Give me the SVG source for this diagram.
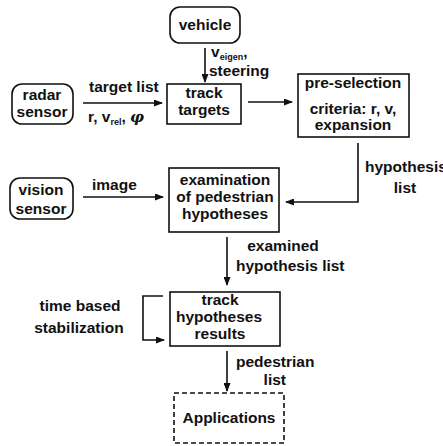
<svg xmlns="http://www.w3.org/2000/svg" width="443" height="446" viewBox="0 0 443 446">
  <defs>
    <style>
      .t { font-family: "Liberation Sans", Arial, sans-serif; font-weight: bold; font-size: 15.5px; fill: #111; }
      .c { text-anchor: middle; }
      .e { text-anchor: end; }
      .sub { font-size: 9px; }
      .box { fill: #fff; stroke: #111; stroke-width: 1.6; }
      .dash { fill: #fff; stroke: #111; stroke-width: 1.6; stroke-dasharray: 5 3; }
      .ln { fill: none; stroke: #111; stroke-width: 1.6; }
      .arr { marker-end: url(#head); }
    </style>
    <marker id="head" markerUnits="userSpaceOnUse" markerWidth="9" markerHeight="7" refX="8" refY="3.5" orient="auto">
      <path d="M0,0 L9,3.5 L0,7 Z" fill="#111"/>
    </marker>
  </defs>
  <rect width="443" height="446" fill="#fff"/>

  <!-- connectors -->
  <g id="connectors">
    <path class="ln arr" d="M205,48 V82"/>
    <path class="ln arr" d="M83,103 H162"/>
    <path class="ln arr" d="M248,102 H292"/>
    <path class="ln arr" d="M358,143 V202 H286"/>
    <path class="ln arr" d="M83,197 H163"/>
    <path class="ln arr" d="M227,237 V285"/>
    <path class="ln arr" d="M163,296 H143 V340 H164"/>
    <path class="ln arr" d="M227,351 V391"/>
  </g>

  <!-- connector labels -->
  <g id="labels">
    <text class="t" x="211" y="57">v<tspan class="sub" dy="2.5">eigen</tspan><tspan dy="-2.5">,</tspan></text>
    <text class="t" x="209" y="76">steering</text>
    <text class="t" x="89" y="92">target list</text>
    <text class="t" x="88" y="122">r, v<tspan class="sub" dy="3">rel</tspan><tspan dy="-3">, </tspan><tspan font-style="italic" font-family="'DejaVu Serif', serif">φ</tspan></text>
    <text class="t" x="365" y="172">hypothesis</text>
    <text class="t c" x="405" y="193">list</text>
    <text class="t" x="92" y="190">image</text>
    <text class="t c" x="283" y="251">examined</text>
    <text class="t" x="236" y="271">hypothesis list</text>
    <text class="t c" x="80" y="311">time based</text>
    <text class="t c" x="79" y="333">stabilization</text>
    <text class="t" x="236" y="367">pedestrian</text>
    <text class="t e" x="286" y="385">list</text>
  </g>

  <!-- nodes -->
  <g id="vehicle">
    <rect class="box" x="170" y="7" width="70" height="36" rx="10"/>
    <text class="t c" x="205" y="30">vehicle</text>
  </g>
  <g id="radar-sensor">
    <rect class="box" x="12" y="84" width="61" height="40" rx="10"/>
    <text class="t c" x="42" y="100">radar</text>
    <text class="t c" x="42" y="117">sensor</text>
  </g>
  <g id="track-targets">
    <rect class="box" x="167" y="84" width="74" height="40"/>
    <text class="t c" x="204" y="98">track</text>
    <text class="t c" x="204" y="115">targets</text>
  </g>
  <g id="pre-selection">
    <rect class="box" x="298" y="74" width="111" height="63"/>
    <text class="t c" x="353" y="88">pre-selection</text>
    <text class="t c" x="353" y="114">criteria: r, v,</text>
    <text class="t c" x="353" y="130">expansion</text>
  </g>
  <g id="vision-sensor">
    <rect class="box" x="10" y="178" width="63" height="41" rx="10"/>
    <text class="t c" x="41" y="195">vision</text>
    <text class="t c" x="41" y="214">sensor</text>
  </g>
  <g id="examination">
    <rect class="box" x="169" y="168" width="110" height="64"/>
    <text class="t c" x="225" y="185">examination</text>
    <text class="t c" x="225" y="202">of pedestrian</text>
    <text class="t c" x="225" y="219">hypotheses</text>
  </g>
  <g id="track-hypotheses">
    <rect class="box" x="170" y="292" width="110" height="54"/>
    <text class="t c" x="220" y="305">track</text>
    <text class="t c" x="219" y="322">hypotheses</text>
    <text class="t c" x="220" y="339">results</text>
  </g>
  <g id="applications">
    <rect class="dash" x="174" y="393" width="110" height="50"/>
    <text class="t c" x="229" y="423">Applications</text>
  </g>
</svg>
